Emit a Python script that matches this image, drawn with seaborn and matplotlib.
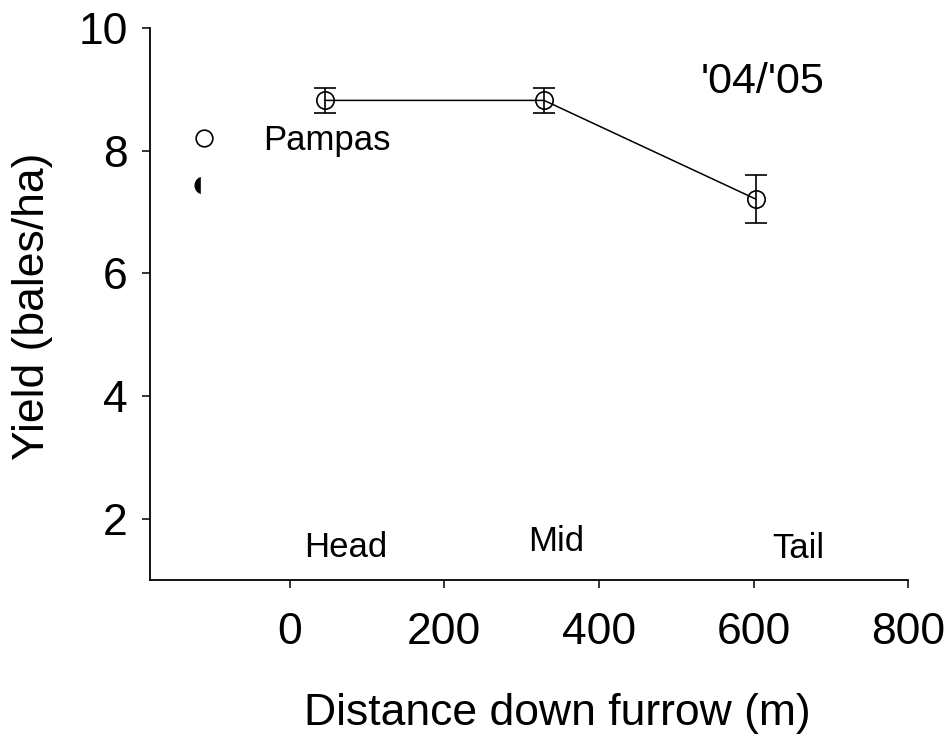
import matplotlib
matplotlib.use("Agg")
import matplotlib.pyplot as plt
import seaborn as sns
import pandas as pd

# Data
positions = ["Head", "Mid", "Tail"]
distance_m = [45, 329, 603]
yield_bales = [8.82, 8.82, 7.21]
yield_err = [0.2, 0.2, 0.39]

legend_label = "Pampas"
season_label = "'04/'05"
legend_open_xy = (-111, 8.21)
legend_clipped_xy = (-112, 7.44)

pos_label_x = [73, 345, 658]
pos_label_y = [1.38, 1.47, 1.36]

x_ticks = [0, 200, 400, 600, 800]
y_ticks = [2, 4, 6, 8, 10]

sns.set_theme(style="ticks")
plt.rcParams["font.family"] = ["Liberation Sans", "DejaVu Sans"]
plt.rcParams["text.color"] = "black"
plt.rcParams["axes.labelcolor"] = "black"

df = pd.DataFrame({"distance": distance_m, "yield": yield_bales, "err": yield_err})

fig = plt.figure(figsize=(9.48, 7.49), dpi=100)
ax = fig.add_axes([0.158, 0.2256, 0.8, 0.737])

ax.errorbar(df["distance"], df["yield"], yerr=df["err"], fmt="none",
            ecolor="black", elinewidth=1.2, capsize=8, capthick=1.2, zorder=2)
sns.lineplot(data=df, x="distance", y="yield", ax=ax, color="black",
             linewidth=1.1, marker="o", markersize=12.5, markerfacecolor="none",
             markeredgecolor="black", markeredgewidth=1.2, zorder=3)

# legend-like marks
ax.plot([legend_open_xy[0]], [legend_open_xy[1]], marker="o", markersize=12,
        markerfacecolor="none", markeredgecolor="black", markeredgewidth=1.2,
        linestyle="none", clip_on=False)
ax.plot([legend_clipped_xy[0]], [legend_clipped_xy[1]], marker="o", markersize=12,
        markerfacecolor="black", markeredgecolor="black", linestyle="none", zorder=4)
ax.plot([legend_clipped_xy[0] + 13], [legend_clipped_xy[1]], marker="s", markersize=18,
        markerfacecolor="white", markeredgecolor="white", linestyle="none", zorder=5)

ax.text(-35, 8.01, legend_label, fontsize=25, ha="left", va="baseline", color="black")
ax.text(532, 8.94, season_label, fontsize=31, ha="left", va="baseline", color="black")
for lab, lx, ly in zip(positions, pos_label_x, pos_label_y):
    ax.text(lx, ly, lab, fontsize=25, ha="center", va="baseline", color="black")

ax.set_xlim(-181, 800)
ax.set_ylim(1.0, 10)
ax.set_xticks(x_ticks)
ax.set_yticks(y_ticks)
ax.set_xticklabels([str(t) for t in x_ticks])
ax.set_yticklabels([str(t) for t in y_ticks])

for side in ["top", "right"]:
    ax.spines[side].set_visible(False)
for side in ["left", "bottom"]:
    ax.spines[side].set_color("black")
    ax.spines[side].set_linewidth(1.3)

ax.tick_params(axis="both", direction="out", length=6, width=1.1, color="black",
               labelsize=32, labelcolor="black")
ax.tick_params(axis="x", pad=17)
ax.tick_params(axis="y", pad=10)

ax.set_xlabel("Distance down furrow (m)", fontsize=32, color="black")
ax.set_ylabel("Yield (bales/ha)", fontsize=32, color="black")
ax.xaxis.set_label_coords(0.538, -0.205)
ax.yaxis.set_label_coords(-0.128, 0.496)

fig.savefig("out.png", dpi=100)
